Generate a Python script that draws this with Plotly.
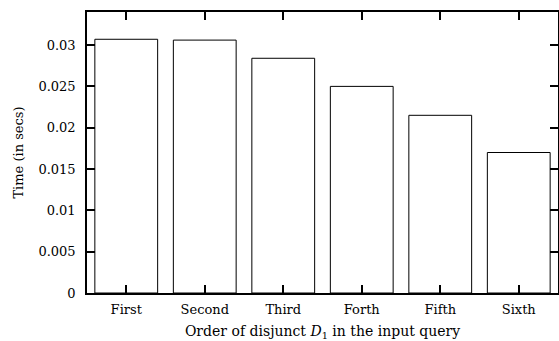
import plotly.graph_objects as go

categories = ["First", "Second", "Third", "Forth", "Fifth", "Sixth"]
times = [0.0307, 0.0306, 0.0284, 0.0250, 0.0215, 0.0170]
y_tickvals = [0, 0.005, 0.01, 0.015, 0.02, 0.025, 0.03]
y_ticktext = ["0", "0.005", "0.01", "0.015", "0.02", "0.025", "0.03"]

font = dict(family="DejaVu Serif", size=13, color="black")
title_font = dict(family="DejaVu Serif", size=14, color="black")

fig = go.Figure(go.Bar(
    x=categories, y=times, width=0.8,
    marker=dict(color="white", line=dict(color="black", width=1)),
))

fig.update_layout(
    width=559, height=341,
    margin=dict(l=87, r=1, t=12, b=48),
    paper_bgcolor="white", plot_bgcolor="white",
    font=font, showlegend=False,
)
fig.update_xaxes(
    range=[-0.5, 5.5], showline=True, linecolor="black", linewidth=1.5,
    mirror="ticks", ticks="inside", ticklen=8, tickwidth=1.5, tickcolor="black",
    showgrid=False, zeroline=False, automargin=False,
    tickfont=font, ticklabelstandoff=4,
    title=dict(text="Order of disjunct <i>D</i><sub>1</sub> in the input query",
               font=title_font, standoff=10),
)
fig.update_yaxes(
    range=[0, 0.034], showline=True, linecolor="black", linewidth=1.5,
    mirror="ticks", ticks="inside", ticklen=8, tickwidth=1.5, tickcolor="black",
    showgrid=False, zeroline=False, automargin=False,
    tickvals=y_tickvals, ticktext=y_ticktext,
    tickfont=font, ticklabelstandoff=7,
    title=dict(text="Time (in secs)", font=font, standoff=12),
)

fig.write_html(
    "out.html",
    config={"displayModeBar": False},
    post_script="document.body.style.margin='0';document.body.style.overflow='hidden';",
)
